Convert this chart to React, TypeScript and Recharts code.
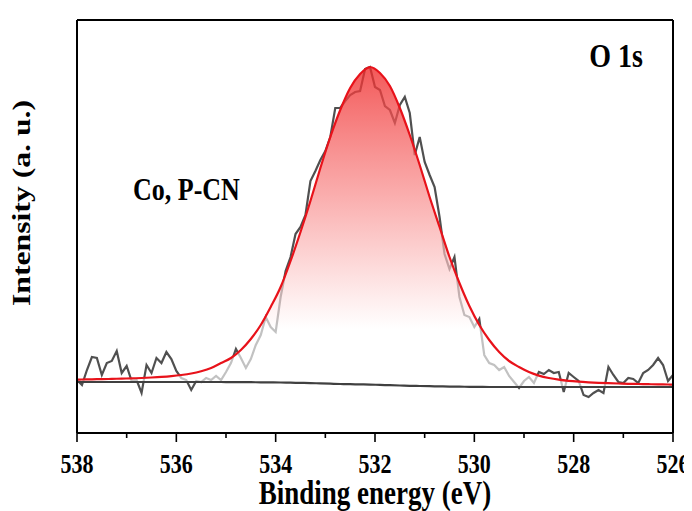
import { Area, ComposedChart, Line, ReferenceLine, XAxis, YAxis } from 'recharts';

// raw O 1s spectrum, 0.1 eV steps from 538 eV down to 526 eV
const RAW_START = 538;
const RAW_STEP = 0.1;
const RAW_COUNTS = [
  7, 2, 17, 30, 29, 12, 24, 26, 36, 14,
  21, 6, 7, -6, 22, 14, 29, 24, 35, 28,
  16, 9, 7, -3, 6, 5, 9, 7, 11, 7,
  15, 24, 38, 29, 19, 28, 42, 52, 70, 60,
  55, 90, 116, 130, 153, 160, 172, 206, 216, 227,
  236, 250, 279, 279, 286, 292, 295, 296, 318, 320,
  300, 297, 281, 277, 264, 282, 290, 274, 232, 250,
  225, 212, 200, 170, 133, 118, 130, 90, 72, 70,
  60, 68, 32, 24, 22, 17, 20, 11, 5, -1,
  6, 10, 4, 15, 13, 17, 14, 15, -5, 14,
  10, 6, -8, -10, -6, -3, -6, 20, 12, 5,
  4, 9, 8, 4, 14, 17, 22, 29, 22, 6, 12,
];

// fitted envelope and Shirley background
const FIT_E = [
  538, 537.9, 537.7, 537.5, 537.3, 537.1, 536.9, 536.7, 536.5, 536.3,
  536.1, 535.9, 535.7, 535.5, 535.3, 535.1, 534.9, 534.7, 534.5, 534.3,
  534.1, 533.9, 533.7, 533.5, 533.3, 533.1, 532.9, 532.7, 532.5, 532.3,
  532.1, 531.9, 531.7, 531.5, 531.3, 531.1, 530.9, 530.7, 530.5, 530.3,
  530.1, 529.9, 529.7, 529.5, 529.3, 529.1, 528.9, 528.7, 528.5, 528.3,
  528.1, 527.9, 527.7, 527.5, 527.3, 527.1, 526.9, 526.7, 526.5, 526.3,
  526.1, 526,
];
const FIT_Y = [
  7.4, 7.5, 7.7, 7.9, 8.1, 8.4, 8.6, 9, 9.5, 10.1,
  10.9, 12, 13.5, 15.8, 19, 24, 29, 37, 48, 62,
  80, 100, 126, 155, 186, 219, 250, 277, 299, 313,
  320, 314, 301, 279, 252, 222, 190, 160, 130, 104,
  81, 62, 47, 35, 26, 20, 15, 11.4, 9, 7.3,
  6.1, 5.3, 4.7, 4.2, 3.8, 3.5, 3.2, 3, 2.8, 2.6,
  2.5, 2.4,
];
const BG_Y = [
  5, 5, 5, 5, 5, 5, 5, 5, 5, 5,
  5, 5, 5, 5, 5, 5, 4.9, 4.9, 4.8, 4.7,
  4.6, 4.5, 4.3, 4.1, 3.9, 3.6, 3.3, 3, 2.8, 2.6,
  2.4, 2.1, 1.8, 1.5, 1.2, 1, 0.8, 0.6, 0.4, 0.3,
  0.2, 0.1, 0, 0, 0, 0, 0, 0, 0, 0,
  0, 0, 0, 0, 0, 0, 0, 0, 0, 0,
  0, 0,
];

const X_TICKS = [526, 527, 528, 529, 530, 531, 532, 533, 534, 535, 536, 537, 538];
const X_DOMAIN: [number, number] = [526, 538];
const Y_DOMAIN: [number, number] = [-46, 367];

const raw = RAW_COUNTS.map((v, i) => ({ e: +(RAW_START - i * RAW_STEP).toFixed(1), v }));
const fit = FIT_E.map((e, i) => ({ e, fit: FIT_Y[i], bg: BG_Y[i] }));

const FONT = '"Liberation Serif", "Times New Roman", serif';
const STRETCH = 1.22;

function XTick(props: any) {
  const { x, y, payload } = props;
  const major = payload.value % 2 === 0;
  return (
    <g>
      <line x1={x} x2={x} y1={y} y2={y + (major ? 9 : 5)} stroke="#000" strokeWidth={1.6} />
      {major && (
        <text
          transform={`translate(${x},${y + 40}) scale(1,${STRETCH})`}
          textAnchor="middle"
          fontFamily={FONT}
          fontWeight="bold"
          fontSize={22}
          fill="#000"
        >
          {payload.value}
        </text>
      )}
    </g>
  );
}

export default function App() {
  return (
    <ComposedChart width={684} height={503} margin={{ top: 12, right: 19, left: 0, bottom: 8 }}>
      <defs>
        <linearGradient id="peakFill" x1="0" y1="0" x2="0" y2="1">
          <stop offset="0%" stopColor="#f02a2a" stopOpacity={0.78} />
          <stop offset="40%" stopColor="#f88a8a" stopOpacity={0.7} />
          <stop offset="82%" stopColor="#ffffff" stopOpacity={0.65} />
          <stop offset="100%" stopColor="#ffffff" stopOpacity={0.65} />
        </linearGradient>
      </defs>
      <XAxis
        type="number"
        dataKey="e"
        domain={X_DOMAIN}
        reversed
        allowDataOverflow
        ticks={X_TICKS}
        interval={0}
        tickLine={false}
        tickSize={0}
        tickMargin={0}
        tick={(p: any) => <XTick {...p} />}
        axisLine={{ stroke: '#000', strokeWidth: 2 }}
        height={70}
      />
      <YAxis
        type="number"
        domain={Y_DOMAIN}
        allowDataOverflow
        tick={false}
        tickLine={false}
        width={69}
        axisLine={{ stroke: '#000', strokeWidth: 2 }}
      />
      <Area
        data={raw}
        dataKey="v"
        type="linear"
        stroke="#505050"
        strokeWidth={2.2}
        fill="none"
        isAnimationActive={false}
        dot={false}
        activeDot={false}
      />
      <Area
        data={fit}
        dataKey={(d: any) => [d.bg, d.fit]}
        type="monotone"
        stroke="none"
        fill="url(#peakFill)"
        fillOpacity={1}
        isAnimationActive={false}
        dot={false}
        activeDot={false}
      />
      <Line
        data={fit}
        dataKey="bg"
        type="monotone"
        stroke="#404040"
        strokeWidth={2.2}
        dot={false}
        activeDot={false}
        isAnimationActive={false}
      />
      <Line
        data={fit}
        dataKey="fit"
        type="monotone"
        stroke="#e8121a"
        strokeWidth={2.2}
        dot={false}
        activeDot={false}
        isAnimationActive={false}
      />
      <ReferenceLine y={Y_DOMAIN[1]} stroke="#000" strokeWidth={2} ifOverflow="visible" />
      <ReferenceLine x={X_DOMAIN[0]} stroke="#000" strokeWidth={2} ifOverflow="visible" />
      <g fontFamily={FONT} fontWeight="bold" fill="#000">
        <text transform={`translate(608,59) scale(1,${STRETCH})`} textAnchor="middle" fontSize={28}>
          O 1s
        </text>
        <text transform={`translate(125,192) scale(1,${STRETCH})`} fontSize={26}>
          Co, P-CN
        </text>
        <text transform={`translate(367,496) scale(1,${STRETCH})`} textAnchor="middle" fontSize={27}>
          Binding energy (eV)
        </text>
        <text
          transform={`translate(22,195) scale(1,${STRETCH}) rotate(-90)`}
          textAnchor="middle"
          fontSize={26}
        >
          Intensity (a. u.)
        </text>
      </g>
    </ComposedChart>
  );
}
